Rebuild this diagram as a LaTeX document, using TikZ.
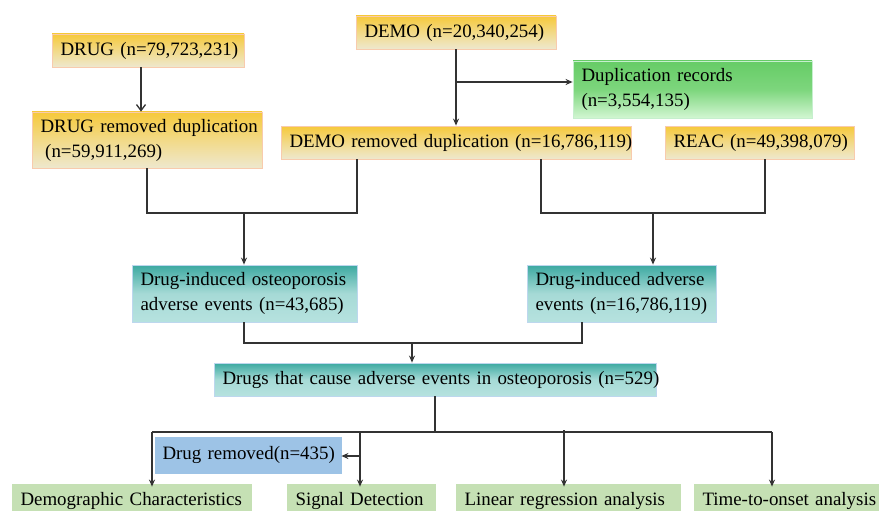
\documentclass[tikz,border=0pt]{standalone}
\usepackage{fontspec}
\setmainfont{Liberation Serif}
\usetikzlibrary{arrows.meta,calc}
\definecolor{ytop}{HTML}{F6C93A}
\definecolor{ymid}{HTML}{F2DA88}
\definecolor{ybot}{HTML}{EEE8CE}
\definecolor{yborder}{HTML}{F8CBAD}
\definecolor{ttop}{HTML}{3CA9A1}
\definecolor{tmid}{HTML}{A6DAD6}
\definecolor{tbot}{HTML}{B6E2DF}
\definecolor{tborder}{HTML}{BDD7EE}
\definecolor{gtop}{HTML}{66CC66}
\definecolor{gmid}{HTML}{7DD67D}
\definecolor{gbot}{HTML}{D2F6D2}
\definecolor{gborder}{HTML}{C6EFCE}
\definecolor{lgreen}{HTML}{C5E0B4}
\definecolor{lblue}{HTML}{9DC3E6}
\definecolor{linec}{HTML}{333333}
\begin{document}
\begin{tikzpicture}[x=1pt,y=-1pt,
  base/.style={draw, line width=0.8pt, inner xsep=8.5pt, inner ysep=0pt, align=left,
    font=\fontsize{18.9}{25}\selectfont, text=black, anchor=center},
  yelbox/.style={base, draw=yborder, top color=ytop, bottom color=ybot, middle color=ymid},
  tealbox/.style={base, draw=tborder, top color=ttop, bottom color=tbot, middle color=tmid},
  greenbox/.style={base, draw=gborder, top color=gtop, bottom color=gbot, middle color=gmid},
  resbox/.style={base, draw=lgreen, fill=lgreen},
  bluebox/.style={base, draw=lblue, fill=lblue},
  conn/.style={draw=linec, line width=1.3pt},
  arr/.style={conn, -{Stealth[length=7pt,width=6pt]}},
  openarr/.style={conn, -{Straight Barb[length=6pt,width=9pt]}}
]
\useasboundingbox (0,0) rectangle (879,511);

% boxes
\node[yelbox, minimum width=192pt, text width=175pt, minimum height=33pt] (drug) at (148,50.5) {\mbox{DRUG (n=79,723,231)}};
\node[yelbox, minimum width=230pt, text width=213pt, minimum height=56pt] (drugrem) at (147,140) {\mbox{DRUG removed duplication}\\\hspace*{0.25em}(n=59,911,269)};
\node[yelbox, minimum width=200pt, text width=183pt, minimum height=33pt] (demo) at (456,32.5) {\mbox{DEMO (n=20,340,254)}};
\node[greenbox, minimum width=239pt, text width=222pt, minimum height=57pt] (dup) at (692.5,89.5) {Duplication records\\(n=3,554,135)};
\node[yelbox, minimum width=350pt, text width=333pt, minimum height=33pt] (demorem) at (456,142.5) {\mbox{DEMO removed duplication (n=16,786,119)}};
\node[yelbox, minimum width=189pt, text width=172pt, minimum height=33pt] (reac) at (759.5,142.5) {\mbox{REAC (n=49,398,079)}};
\node[tealbox, minimum width=225pt, text width=208pt, minimum height=57pt] (osteo) at (244.5,293.5) {\mbox{Drug-induced osteoporosis}\\adverse events (n=43,685)};
\node[tealbox, minimum width=189pt, text width=172pt, minimum height=57pt] (adv) at (621.5,293.5) {\mbox{Drug-induced adverse}\\\mbox{events (n=16,786,119)}};
\node[tealbox, minimum width=442pt, text width=425pt, minimum height=33pt] (drugs) at (435,379.5) {\mbox{Drugs that cause adverse events in osteoporosis (n=529)}};
\node[bluebox, minimum width=186pt, text width=171pt, inner xsep=7.5pt, minimum height=36pt] (removed) at (248,455) {\mbox{Drug removed(n=435)}};
\node[resbox, minimum width=239pt, text width=222pt, minimum height=33pt] (demog) at (131.5,500.5) {\mbox{Demographic Characteristics}};
\node[resbox, minimum width=148pt, text width=131pt, minimum height=33pt] (signal) at (361,500.5) {\mbox{Signal Detection}};
\node[resbox, minimum width=224pt, text width=207pt, minimum height=33pt] (linear) at (568,500.5) {\mbox{Linear regression analysis}};
\node[resbox, minimum width=196pt, text width=179pt, minimum height=33pt] (time) at (792,500.5) {\mbox{Time-to-onset analysis}};

% junction coordinates
\coordinate (j1) at (456,82);
\coordinate (m1) at (244,213);
\coordinate (m2) at (653,213);
\coordinate (m3) at (412,343);
\coordinate (h1) at (152,432);
\coordinate (s1) at (360,432);
\coordinate (l1) at (564,430);
\coordinate (h2) at (772,432);
\coordinate (b1) at (360,456);

% connectors
\draw[openarr] ([xshift=-7pt]drug.south) -- ([xshift=-6pt]drugrem.north);
\draw[arr] (demo.south) -- (demorem.north);
\draw[arr] (j1) -- (j1 -| dup.west);

\draw[conn] (drugrem.south) |- (m1);
\draw[conn] ([xshift=-99pt]demorem.south) |- (m1);
\draw[arr] (m1) -- (m1 |- osteo.north);

\draw[conn] ([xshift=85pt]demorem.south) |- (m2);
\draw[conn] ([xshift=5.5pt]reac.south) |- (m2);
\draw[arr] (m2) -- (m2 |- adv.north);

\draw[conn] ([xshift=-0.5pt]osteo.south) |- (m3);
\draw[conn] ([xshift=-39.5pt]adv.south) |- (m3);
\draw[arr] (m3) -- (m3 |- drugs.north);

\draw[conn] (drugs.south) -- (drugs.south |- h1);
\draw[conn] (h1) -- (h2);
\draw[arr] (h1) -- ([yshift=-3pt]h1 |- demog.north);
\draw[arr] (s1) -- ([yshift=-3pt]s1 |- signal.north);
\draw[arr] (l1) -- ([yshift=-3pt]l1 |- linear.north);
\draw[arr] (h2) -- ([yshift=-3pt]h2 |- time.north);
\draw[arr] (b1) -- (b1 -| removed.east);
\end{tikzpicture}
\end{document}
